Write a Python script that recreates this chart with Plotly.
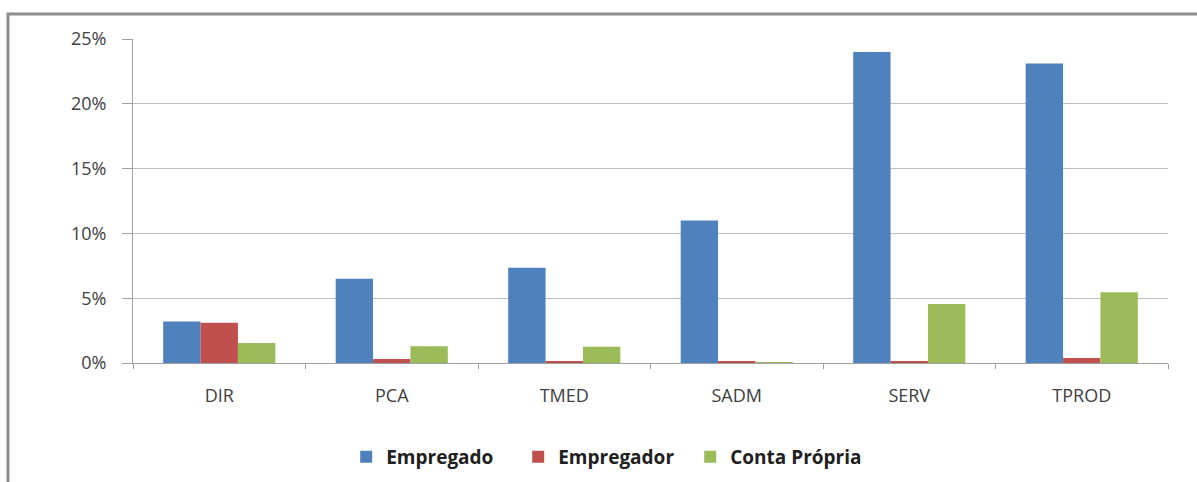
import plotly.graph_objects as go

categories = ["DIR", "PCA", "TMED", "SADM", "SERV", "TPROD"]
empregado = [3.2, 6.5, 7.35, 11.0, 24.0, 23.1]
empregador = [3.1, 0.3, 0.1, 0.08, 0.1, 0.38]
conta_propria = [1.55, 1.3, 1.25, 0.06, 4.55, 5.45]
y_ticks = [0, 5, 10, 15, 20, 25]
y_labels = [f"{v}%" for v in y_ticks]

colors = {"Empregado": "#4F81BD", "Empregador": "#C0504D", "Conta Própria": "#9BBB59"}

fig = go.Figure()
for name, vals in [("Empregado", empregado), ("Empregador", empregador),
                   ("Conta Própria", conta_propria)]:
    fig.add_trace(go.Bar(x=categories, y=vals, name=name,
                         marker=dict(color=colors[name], line_width=0)))

fig.update_layout(
    width=1197, height=482,
    margin=dict(l=133, r=29, t=39, b=119, autoexpand=False),
    paper_bgcolor="white", plot_bgcolor="white",
    font=dict(family="Open Sans, Liberation Sans, sans-serif", color="#404040"),
    barmode="group", bargap=0.35, bargroupgap=0,
    showlegend=True,
    legend=dict(orientation="h", x=0.206, y=-0.29, xanchor="left", yanchor="middle",
                font=dict(size=19, color="#202020", family="Open Sans, sans-serif", weight=700),
                itemwidth=30, entrywidth=127, tracegroupgap=0),
)
fig.update_yaxes(range=[0, 25], tickmode="array", tickvals=y_ticks, ticktext=y_labels,
                 showgrid=True, gridcolor="#BFBFBF", gridwidth=1,
                 showline=True, linecolor="#A0A0A0", linewidth=1,
                 ticks="outside", ticklen=10, tickcolor="#A0A0A0",
                 ticklabelstandoff=12,
                 tickfont=dict(size=18, color="#404040"), zeroline=False)
fig.update_xaxes(showline=True, linecolor="#A0A0A0", linewidth=1,
                 ticks="outside", tickson="boundaries", ticklen=5, tickcolor="#A0A0A0",
                 ticklabelstandoff=16,
                 tickfont=dict(size=18, color="#404040"))

# outer chart frame, cut off at the right and bottom like the source image
fig.add_shape(type="rect", xref="paper", yref="paper",
              x0=-0.1208, x1=1.05, y0=-0.45, y1=1.0774,
              line=dict(color="#8C8C8C", width=3), layer="below")

# drop the browser's default page margin so the figure sits at (0, 0)
fig.write_html("out.html", config={"displayModeBar": False},
               post_script="document.body.style.margin='0';")
